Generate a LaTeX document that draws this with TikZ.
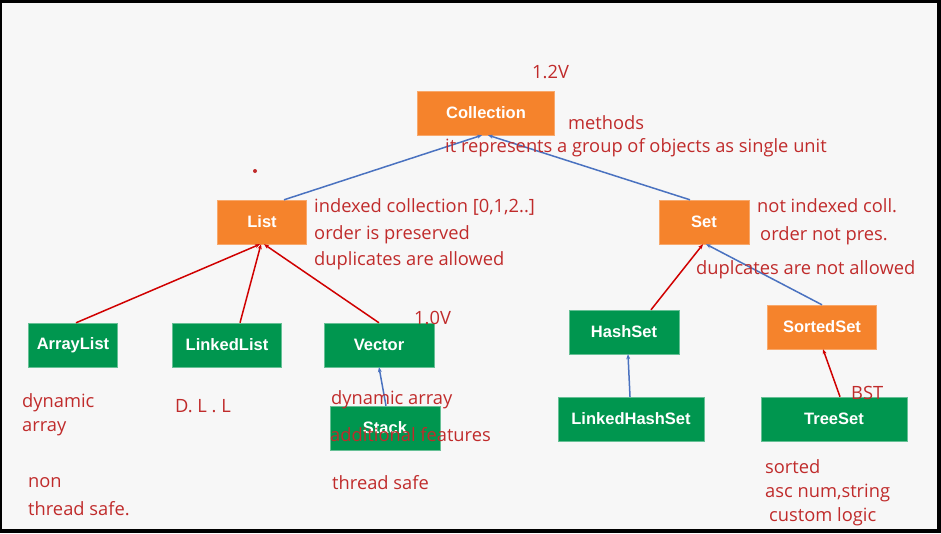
\documentclass[tikz,border=0pt]{standalone}
\usepackage{fontspec}
\setmainfont{Open Sans}
\newfontfamily\boxfont{Liberation Sans}
\usetikzlibrary{arrows.meta}
\definecolor{boxorange}{HTML}{F5832C}
\definecolor{boxgreen}{HTML}{00964F}
\definecolor{notered}{HTML}{C02B2B}
\definecolor{linkblue}{HTML}{4A72C0}
\definecolor{linkred}{HTML}{D00000}
\tikzset{iface/.style={fill=boxorange, draw=boxorange!70!white, text=white,
    font=\boxfont\bfseries\fontsize{16.5}{19}\selectfont, minimum height=44pt}}
\tikzset{impl/.style={iface, fill=boxgreen, draw=boxgreen!60!white}}
\tikzset{note/.style={text=notered, font=\fontsize{18.3}{21}\selectfont, anchor=west, inner sep=0pt}}
\tikzset{isa/.style={-{Stealth[length=5pt,width=4pt]}, line width=1.5pt}}
\begin{document}
\begin{tikzpicture}[x=1pt,y=-1pt]
% frame
\fill[black] (0,0) rectangle (941,533);
\fill[white!97!black] (2,3) rectangle (937,529);
\useasboundingbox (0,0) rectangle (941,533);

% interfaces
\node[iface, minimum width=137pt] (collection) at (486,113) {Collection};
\node[iface, minimum width=89pt] (list) at (262,222) {List};
\node[iface, minimum width=90pt] (set) at (704,222) {Set};
\node[iface, minimum width=109pt] (sortedset) at (822,327) {SortedSet};

% classes
\node[impl, minimum width=89pt] (arraylist) at (73,345) {ArrayList};
\node[impl, minimum width=109pt] (linkedlist) at (227,345) {LinkedList};
\node[impl, minimum width=110pt] (vector) at (379,345) {Vector};
\node[impl, minimum width=110pt] (stack) at (385,428) {Stack};
\node[impl, minimum width=110pt] (hashset) at (624,332) {HashSet};
\node[impl, minimum width=146pt] (linkedhashset) at (631,419) {LinkedHashSet};
\node[impl, minimum width=146pt] (treeset) at (834,419) {TreeSet};

% links
\draw[isa, linkblue] ([xshift=22pt]list.north) -- ([xshift=-4pt]collection.south);
\draw[isa, linkblue] ([xshift=-14pt]set.north) -- ([xshift=2pt]collection.south);
\draw[isa, linkred] ([xshift=3pt]arraylist.north) -- ([xshift=-2pt]list.south);
\draw[isa, linkred] ([xshift=13pt]linkedlist.north) -- ([xshift=-1pt]list.south);
\draw[isa, linkred] (vector.north) -- ([xshift=2pt]list.south);
\draw[isa, linkred] ([xshift=27pt]hashset.north) -- ([xshift=-1pt]set.south);
\draw[isa, linkblue] (sortedset.north) -- ([xshift=2pt]set.south);
\draw[isa, linkblue] ([xshift=1pt]stack.north) -- (vector.south);
\draw[isa, linkblue] ([xshift=-1pt]linkedhashset.north) -- ([xshift=4pt]hashset.south);
\draw[isa, linkred] ([xshift=6pt]treeset.north) -- ([xshift=1pt]sortedset.south);

% notes
\node[note] (ver12) at (532,72) {1.2V};
\node[note] (methods) at (568,123) {methods};
\node[note] (unit) at (445,148) {it represents a group of objects as single unit};
\node[note] (indexed) at (314,207) {indexed collection [0,1,2..]};
\node[note] (order) at (314,235) {order is preserved};
\node[note] (dupl) at (314,261) {duplicates are allowed};
\node[note] (notindexed) at (757,206) {not indexed coll.};
\node[note] (notorder) at (760,236) {order not pres.};
\node[note] (notdupl) at (696,270) {duplcates are not allowed};
\node[note] (ver10) at (414,318) {1.0V};
\node[note] (dyn) at (22,403) {dynamic};
\node[note] (arr) at (22,429) {array};
\node[note] (non) at (28,483) {non};
\node[note] (unsafe) at (28,509) {thread safe.};
\node[note] (dll) at (175,406) {D. L . L};
\node[note] (dynarr) at (331,400) {dynamic array};
\node[note] (extra) at (330,435) {additional features};
\node[note] (safe) at (332,483) {thread safe};
\node[note] (bst) at (851,393) {BST};
\node[note] (sorted) at (765,467) {sorted};
\node[note] (asc) at (765,493) {asc num,string};
\node[note] (custom) at (769,517) {custom logic};
\fill[notered] (255,171) circle (2pt);
\end{tikzpicture}
\end{document}
